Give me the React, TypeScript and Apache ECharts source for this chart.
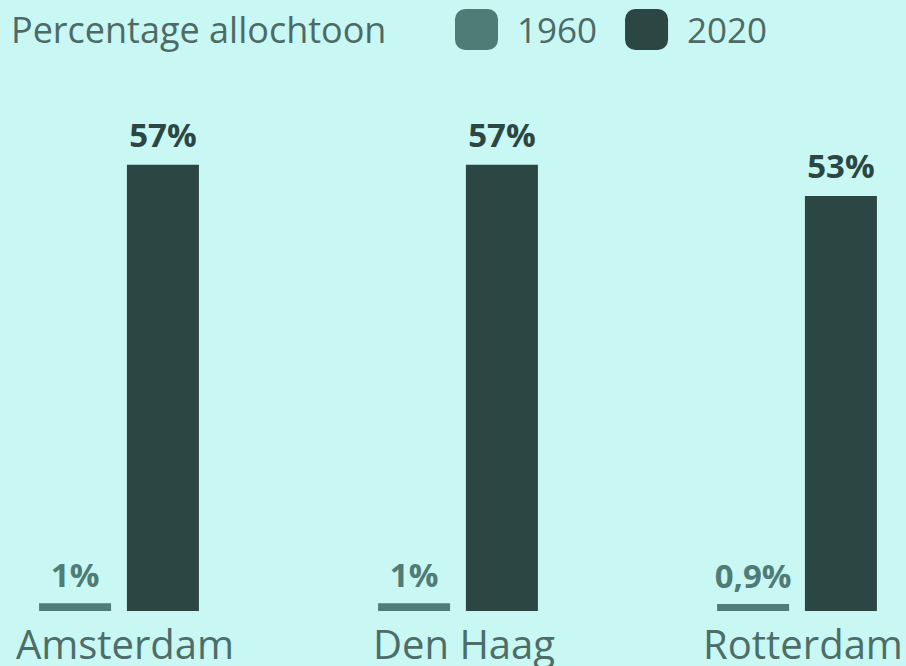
import React, { useEffect, useRef } from "react";
import * as echarts from "echarts";

const categories = ["Amsterdam", "Den Haag", "Rotterdam"];
const values1960 = [1, 1, 0.9];
const values2020 = [57, 57, 53];
const seriesNames = ["1960", "2020"];
const titleText = "Percentage allochtoon";

const FONT = "'Open Sans', sans-serif";
const fmt = (v: number) => String(v).replace(".", ",") + "%";

export default function App() {
  const ref = useRef<HTMLDivElement>(null);
  useEffect(() => {
    if (!ref.current) return;
    const chart = echarts.init(ref.current, undefined, { renderer: "svg" });
    chart.setOption({
      animation: false,
      backgroundColor: "#c9f7f3",
      textStyle: { fontFamily: FONT },
      title: {
        text: titleText,
        left: 11,
        top: 11,
        padding: 0,
        textStyle: { fontFamily: FONT, fontSize: 36, fontWeight: "normal", color: "#4d6a66" },
      },
      legend: {
        left: 455,
        top: 9,
        padding: 0,
        itemWidth: 43,
        itemHeight: 41,
        itemGap: 28,
        icon: "roundRect",
        textStyle: { fontFamily: FONT, fontSize: 35, color: "#4d6a66", padding: [0, 0, 0, 14] },
        data: seriesNames,
      },
      grid: { left: 119, right: 109, top: 63, bottom: 55 },
      xAxis: {
        type: "category",
        data: categories,
        boundaryGap: false,
        axisLine: { show: false },
        axisTick: { show: false },
        axisLabel: {
          fontFamily: FONT,
          fontSize: 40,
          color: "#4d6d69",
          margin: 12,
          padding: [0, 0, 0, 12],
        },
      },
      yAxis: { type: "value", min: 0, max: 70, show: false, splitLine: { show: false } },
      series: [
        {
          name: seriesNames[0],
          type: "bar",
          data: values1960,
          barWidth: 72,
          barGap: "22%",
          itemStyle: { color: "#4f7c77" },
          label: {
            show: true,
            position: "top",
            distance: 12,
            formatter: (p: any) => fmt(p.value),
            fontFamily: FONT,
            fontSize: 33,
            fontWeight: "bold",
            color: "#4f7c77",
          },
        },
        {
          name: seriesNames[1],
          type: "bar",
          data: values2020,
          barWidth: 72,
          itemStyle: { color: "#2c4743" },
          label: {
            show: true,
            position: "top",
            distance: 14,
            formatter: (p: any) => fmt(p.value),
            fontFamily: FONT,
            fontSize: 33,
            fontWeight: "bold",
            color: "#2c4743",
          },
        },
      ],
    });
    return () => chart.dispose();
  }, []);
  return (
    <div
      ref={ref}
      style={{ position: "fixed", left: 0, top: 0, width: 906, height: 666 }}
    />
  );
}
